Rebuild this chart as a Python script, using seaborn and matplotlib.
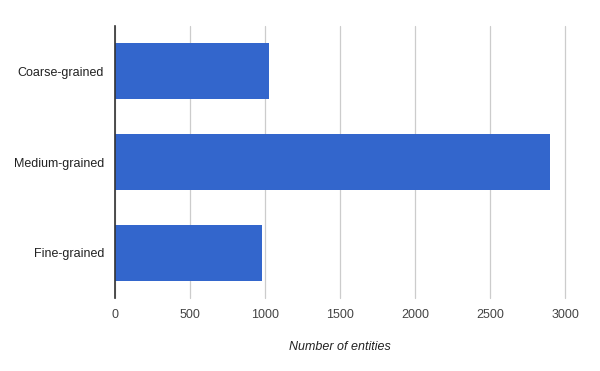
import matplotlib
matplotlib.use("Agg")
import matplotlib.pyplot as plt
import seaborn as sns
import pandas as pd

categories = ["Coarse-grained", "Medium-grained", "Fine-grained"]
values = [1025, 2898, 978]
x_ticks = [0, 500, 1000, 1500, 2000, 2500, 3000]

df = pd.DataFrame({"category": categories, "value": values})

sns.set_theme(style="white")
plt.rcParams["font.family"] = ["Liberation Sans", "DejaVu Sans"]

fig = plt.figure(figsize=(6, 3.71), dpi=100)
ax = fig.add_axes([115/600, 1-298/371, 450/600, 272/371])

sns.barplot(data=df, x="value", y="category", orient="h", color="#3366cc",
            saturation=1, width=0.62, linewidth=0, ax=ax, zorder=3)

ax.set_xlim(0, 3000)
ax.set_xticks(x_ticks)
ax.set_xticklabels([str(t) for t in x_ticks], color="#444444", fontsize=9)
ax.tick_params(axis="y", labelsize=9, labelcolor="#222222", length=0, pad=8)
ax.tick_params(axis="x", length=0, pad=8)
ax.xaxis.grid(True, color="#cccccc", linewidth=0.9, zorder=0)
for gl in ax.get_xgridlines():
    gl.set_clip_on(False)
ax.set_axisbelow(True)
for s in ["top", "right", "bottom"]:
    ax.spines[s].set_visible(False)
ax.spines["left"].set_color("#333333")
ax.spines["left"].set_linewidth(1.2)
ax.spines["left"].set_zorder(5)
ax.set_ylabel("")
ax.set_xlabel("Number of entities", fontsize=9, fontstyle="italic", color="#222222", labelpad=14)

fig.savefig("out.png", dpi=100)
